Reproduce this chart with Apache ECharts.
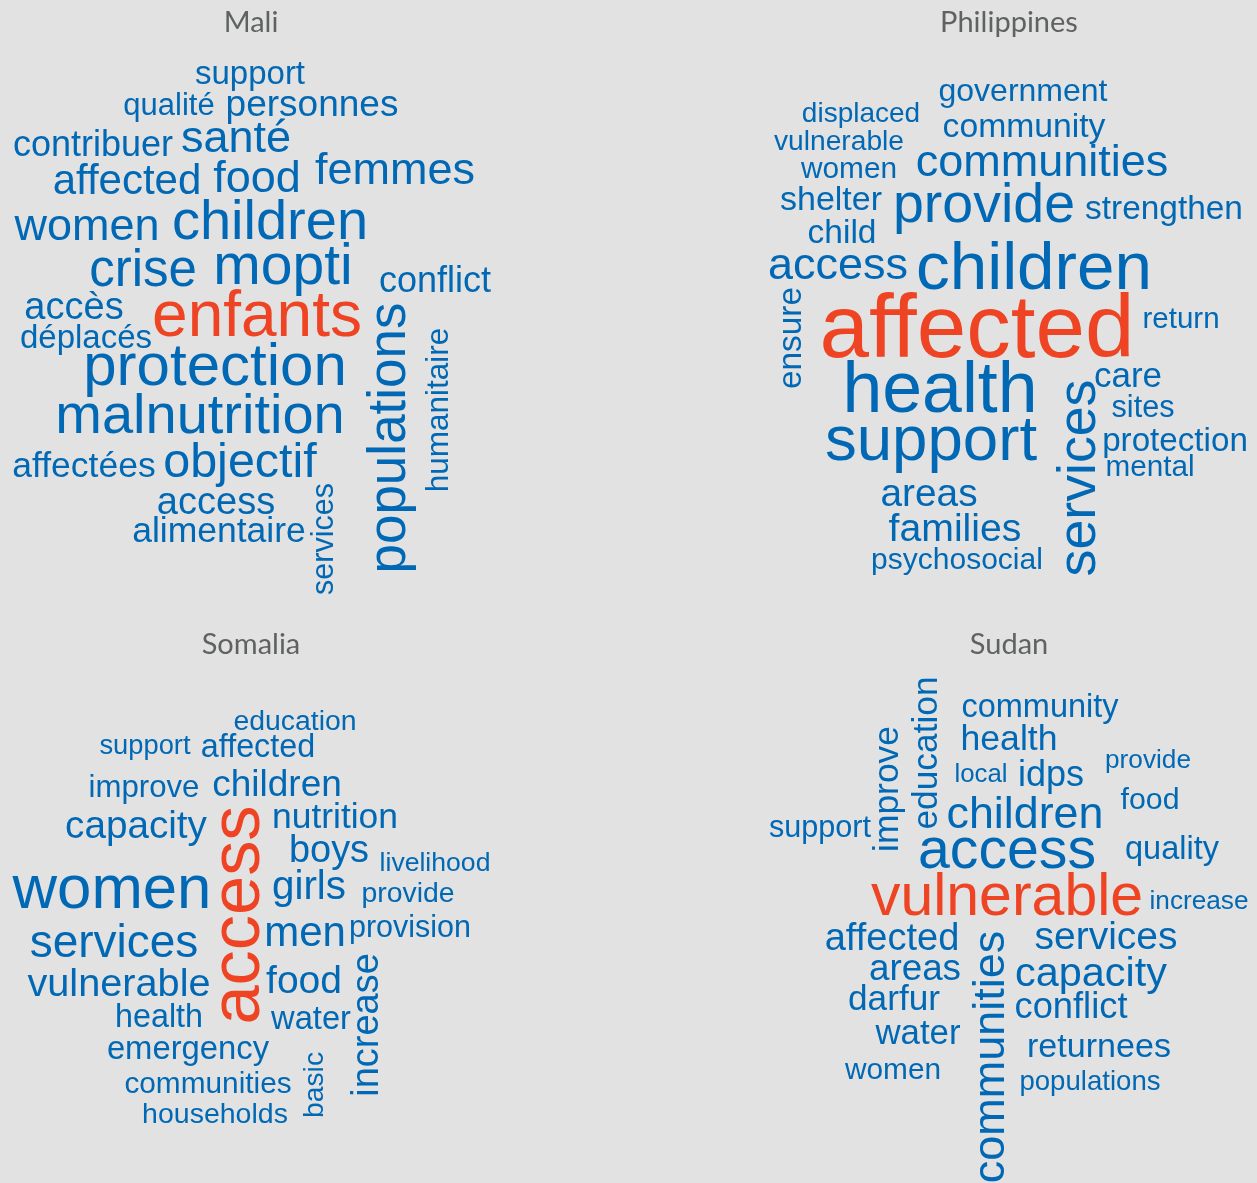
<!DOCTYPE html>
<html><head><meta charset="utf-8">
<script src="https://cdn.jsdelivr.net/npm/echarts@6/dist/echarts.min.js"></script>
<style>html,body{margin:0;padding:0;background:#e1e2e1}#c{width:1257px;height:1183px}</style>
</head><body><div id="c"></div><script>
// ---- data: words and their weights (weight = relative frequency) ----
const panelTitles = ['Mali', 'Philippines', 'Somalia', 'Sudan'];

const maliWords = ['support','qualité','personnes','contribuer','santé','affected','food','femmes','women','children','crise','mopti','conflict','accès','déplacés','enfants','protection','malnutrition','affectées','objectif','access','alimentaire','services','populations','humanitaire'];
const maliFreq  = [33,31,37,36,45,42,45,45,45,56,51,57,36,38,33,64,60,56,35.5,48.5,38,35.5,30.5,53,31.5];
const maliLayout = [[250,73,0],[169,104,0],[312,104,0],[93,144,0],[236,138,0],[127,180,0],[257,178,0],[395,170,0],[87,226,0],[270,222,0],[143,270,0],[283,266,0],[435,280,0],[74,307,0],[86,337,0],[257,316,0],[215,366,0],[200,416,0],[84,465,0],[240,462,0],[216,502,0],[219,530,0],[323,539,90],[388,438,90],[437,410,90]];

const phWords = ['government','displaced','community','vulnerable','women','communities','shelter','provide','strengthen','child','access','children','ensure','affected','return','health','care','sites','support','services','protection','mental','areas','families','psychosocial'];
const phFreq  = [32,28,33.7,28.2,29.8,45,34,55.5,33.4,33.5,45,67.4,33.4,89,29.5,71.6,35,30.6,63.6,53.7,33.2,29.7,38.8,39.2,30];
const phLayout = [[1023,90,0],[861,112,0],[1024,126,0],[839,140,0],[849,168,0],[1042,162,0],[831,199,0],[984,205,0],[1164,208,0],[842,232,0],[838,265,0],[1034,268,0],[790,338,90],[977,330,0],[1181,318,0],[940,390,0],[1128,375,0],[1143,407,0],[931,440,0],[1078,478,90],[1175,440,0],[1150,466,0],[929,493,0],[955,528,0],[957,559,0]];

const soWords = ['education','support','affected','improve','children','capacity','nutrition','access','boys','livelihood','women','girls','provide','services','men','provision','vulnerable','food','increase','health','water','emergency','communities','basic','households'];
const soFreq  = [28.4,27.3,32.3,31.2,37,38.7,35.4,70.4,37.9,26.6,61.7,40.4,28.4,46,42,30.5,39.7,39,38,32.3,32.7,32.8,29.8,28.3,28.5];
const soLayout = [[295,720,0],[145,744,0],[258,746,0],[144,786,0],[277,784,0],[136,825,0],[335,816,0],[238,915,90],[329,850,0],[435,862,0],[112,889,0],[309,886,0],[408,892,0],[114,942,0],[305,932,0],[410,927,0],[119,983,0],[304,980,0],[366,1025,90],[159,1016,0],[311,1018,0],[188,1048,0],[208,1083,0],[313,1085,90],[215,1113,0]];

const sdWords = ['education','improve','community','health','provide','local','idps','food','children','support','access','quality','vulnerable','increase','affected','services','communities','areas','capacity','darfur','conflict','water','returnees','women','populations'];
const sdFreq  = [35.3,35.4,32.5,35.6,26.2,25.8,36,30.3,44.8,30.6,57.2,32.5,59,26.2,38,39,45,36.8,41.4,35.2,36.3,34.8,34.1,29.8,27.6];
const sdLayout = [[925,753,90],[886,789,90],[1040,706,0],[1009,738,0],[1148,759,0],[981,773,0],[1051,774,0],[1150,799,0],[1025,814,0],[820,827,0],[1007,850,0],[1172,848,0],[1007,897,0],[1199,900,0],[892,938,0],[1106,936,0],[990,1057,90],[915,968,0],[1091,973,0],[894,998,0],[1071,1006,0],[918,1032,0],[1099,1046,0],[893,1069,0],[1090,1080,0]];

// index of the top (highlighted) word in each panel
const highlightIndex = [15, 13, 7, 12];
const titlePos = [[251,23],[1009,23],[251,645],[1009,645]];

// ---- build ----
const BLUE = '#0068b4', RED = '#ef4423';
const panels = [
  [maliWords, maliFreq, maliLayout],
  [phWords, phFreq, phLayout],
  [soWords, soFreq, soLayout],
  [sdWords, sdFreq, sdLayout]
];
const series = panels.map((p, pi) => ({
  type: 'scatter',
  symbolSize: 0,
  silent: true,
  itemStyle: {opacity: 1},
  data: p[0].map((w, i) => {
    const rot = p[2][i][2];
    return {
      name: w,
      value: [p[2][i][0] + (rot ? 2 : 0), p[2][i][1] + (rot ? 0 : 2), p[1][i]],
      label: {
        fontSize: p[1][i],
        rotate: rot,
        color: i === highlightIndex[pi] ? RED : BLUE
      }
    };
  }),
  label: {
    show: true,
    opacity: 1,
    position: 'inside',
    formatter: '{b}',
    fontFamily: '"Liberation Sans", Arial, sans-serif',
    align: 'center',
    verticalAlign: 'middle'
  }
}));

const chart = echarts.init(document.getElementById('c'), null, {renderer: 'canvas'});
chart.setOption({
  backgroundColor: '#e1e2e1',
  animation: false,
  grid: {left: 0, top: 0, right: 0, bottom: 0},
  xAxis: {type: 'value', min: 0, max: 1257, show: false},
  yAxis: {type: 'value', min: 0, max: 1183, inverse: true, show: false},
  graphic: panelTitles.map((t, i) => ({
    type: 'text', x: titlePos[i][0], y: titlePos[i][1],
    style: {text: t, fill: '#606262', font: '29px Lato, "Noto Sans", sans-serif', textAlign: 'center', textVerticalAlign: 'middle'}
  })),
  series: series
});
</script></body></html>
